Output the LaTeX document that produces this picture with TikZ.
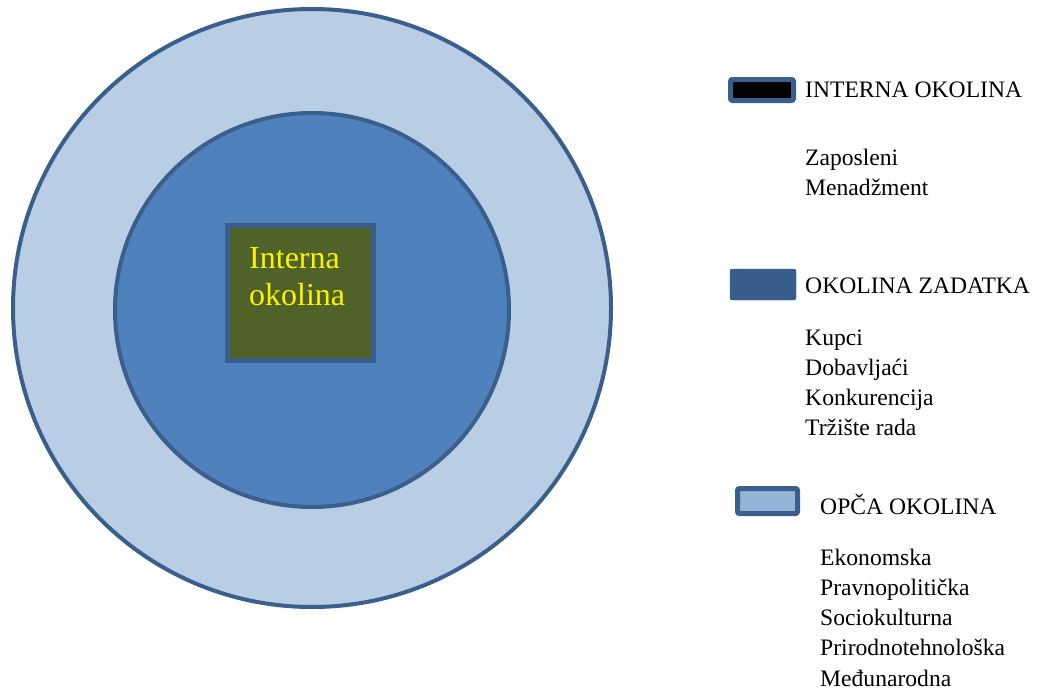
\documentclass[tikz,border=0pt]{standalone}
\usepackage{fontspec}
\setmainfont{Liberation Serif}
\definecolor{edgeblue}{HTML}{3A5F8C}
\definecolor{lightblue}{HTML}{B9CDE5}
\definecolor{midblue}{HTML}{4F81BD}
\definecolor{olive}{HTML}{4F6228}
\definecolor{taskblue}{HTML}{385D8A}
\definecolor{legendlight}{HTML}{95B3D7}
\tikzset{
  ring/.style={draw=edgeblue, line width=4pt},
  legbox/.style={draw=edgeblue, line width=5pt, rounded corners=2pt},
  legtext/.style={anchor=base west, inner sep=0pt, font=\fontsize{23.6}{30}\selectfont},
}
\begin{document}
\begin{tikzpicture}[x=1pt,y=-1pt]
\useasboundingbox (0,0) rectangle (1043,691);
% circles
\fill[lightblue] (312,308) circle (299);
\draw[ring] (312,308) circle (299);
\fill[midblue] (312,310) circle (197);
\draw[ring] (312,310) circle (197);
% square
\node[draw=edgeblue, line width=5pt, fill=olive, minimum width=146pt, minimum height=135pt, inner sep=0pt] (sq) at (300,292.5) {};
\node[anchor=base west, inner sep=0pt, text=yellow, font=\fontsize{32}{37}\selectfont] (t1) at (249,268) {Interna};
\node[anchor=base west, inner sep=0pt, text=yellow, font=\fontsize{32}{37}\selectfont] (t2) at (249,305) {okolina};
% legend 1
\draw[legbox, fill=black] (730.5,79.5) rectangle (793.5,100.5);
\node[legtext] (l1) at (805,97) {INTERNA OKOLINA};
\node[legtext] (l1a) at (805,165) {Zaposleni};
\node[legtext] (l1b) at (805,195) {Menadžment};
% legend 2
\draw[draw=taskblue, fill=taskblue, rounded corners=2pt] (730,269) rectangle (796,300);
\node[legtext] (l2) at (805,293) {OKOLINA ZADATKA};
\node[legtext] (l2a) at (805,345) {Kupci};
\node[legtext] (l2b) at (805,375) {Dobavljaći};
\node[legtext] (l2c) at (805,405) {Konkurencija};
\node[legtext] (l2d) at (805,435) {Tržište rada};
% legend 3
\draw[legbox, fill=legendlight] (737.5,488.5) rectangle (797.5,513.5);
\node[legtext] (l3) at (820,514) {OPČA OKOLINA};
\node[legtext] (l3a) at (820,565) {Ekonomska};
\node[legtext] (l3b) at (820,595) {Pravnopolitička};
\node[legtext] (l3c) at (820,625) {Sociokulturna};
\node[legtext] (l3d) at (820,655) {Prirodnotehnološka};
\node[legtext] (l3e) at (820,686) {Međunarodna};
\end{tikzpicture}
\end{document}
